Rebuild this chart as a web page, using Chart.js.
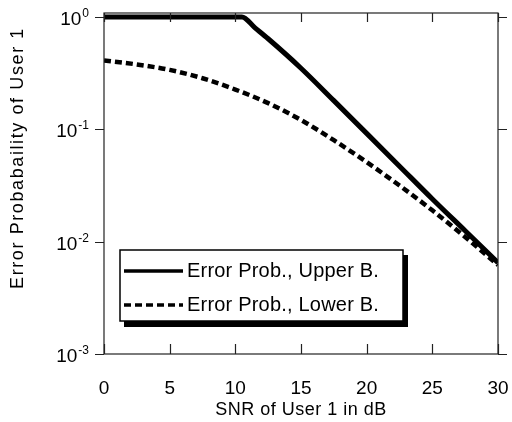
<!DOCTYPE html>
<html>
<head>
<meta charset="utf-8">
<script src="https://cdn.jsdelivr.net/npm/chart.js@4/dist/chart.umd.min.js"></script>
<style>
  html, body { margin: 0; padding: 0; background: #fff; }
</style>
</head>
<body>
<canvas id="errChart" width="512" height="422"></canvas>
<script>
// values
var snrUpper = [0, 5, 10.5, 11.5, 12.5, 15, 17.5, 20, 22.5, 25, 27.5, 30];
var upperB   = [1, 1, 1, 0.80, 0.64, 0.35, 0.18, 0.092, 0.047, 0.024, 0.0125, 0.0065];
var snrLower = [0, 2.5, 5, 7.5, 10, 12.5, 15, 17.5, 20, 22.5, 25, 27.5, 30];
var lowerB   = [0.41, 0.378, 0.338, 0.285, 0.226, 0.171, 0.121, 0.080, 0.051, 0.0316, 0.019, 0.011, 0.0062];
var seriesNames = ['Error Prob., Upper B.', 'Error Prob., Lower B.'];

var xTicks = [0, 5, 10, 15, 20, 25, 30];
var yTicks = [0.001, 0.01, 0.1, 1];
var yTickExp = ['-3', '-2', '-1', '0'];

var FONT = '"Liberation Sans", Arial, Helvetica, sans-serif';

function toPoints(xs, ys) {
    return xs.map(function (s, i) { return { x: s, y: ys[i] }; });
}

// frame, ticks, y labels, axis titles and the boxed legend
var framePlugin = {
    id: 'frame',
    afterDraw: function (chart) {
        var c = chart.ctx;
        var a = chart.chartArea;
        var xs = chart.scales.x, ys = chart.scales.y;
        c.save();

        // box round the plot
        c.strokeStyle = '#222';
        c.lineWidth = 1.2;
        c.strokeRect(a.left, a.top, a.right - a.left, a.bottom - a.top);

        // x ticks, pointing inward top and bottom
        c.beginPath();
        xTicks.forEach(function (v) {
            var px = Math.round(xs.getPixelForValue(v)) + 0.5;
            c.moveTo(px, a.bottom); c.lineTo(px, a.bottom - 10);
            c.moveTo(px, a.top); c.lineTo(px, a.top + 9);
        });
        // y ticks, outward on both sides
        yTicks.forEach(function (v) {
            var py = Math.round(ys.getPixelForValue(v)) + 0.5;
            c.moveTo(a.left, py); c.lineTo(a.left - 9, py);
            c.moveTo(a.right, py); c.lineTo(a.right + 9, py);
        });
        c.stroke();

        // y tick labels 10^n
        c.fillStyle = '#000';
        c.textBaseline = 'alphabetic';
        c.textAlign = 'left';
        yTicks.forEach(function (v, i) {
            var py = ys.getPixelForValue(v);
            c.font = '12px ' + FONT;
            var ew = c.measureText(yTickExp[i]).width;
            c.font = '19px ' + FONT;
            var bw = c.measureText('10').width;
            var right = 89;
            c.fillText('10', right - ew - bw - 1, py + 8);
            c.font = '12px ' + FONT;
            c.fillText(yTickExp[i], right - ew, py);
        });

        // axis titles
        c.font = '18px ' + FONT;
        c.textAlign = 'center';
        c.textBaseline = 'middle';
        c.letterSpacing = '0.5px';
        c.fillText('SNR of User 1 in dB', (a.left + a.right) / 2, 410);
        c.save();
        c.translate(18, 158);
        c.rotate(-Math.PI / 2);
        c.letterSpacing = '1.6px';
        c.fillText('Error Probabaility of User 1', 0, 0);
        c.restore();
        c.letterSpacing = '0px';

        // legend with shadow
        var lx = 120, ly = 250, lw = 283, lh = 71;
        c.fillStyle = '#000';
        c.fillRect(lx + 4, ly + 5, lw + 1, lh + 1);
        c.fillStyle = '#fff';
        c.fillRect(lx, ly, lw, lh);
        c.lineWidth = 1.5;
        c.strokeStyle = '#000';
        c.strokeRect(lx, ly, lw, lh);

        chart.data.datasets.forEach(function (ds, i) {
            var yy = 271 + i * 34;
            c.beginPath();
            c.setLineDash(ds.borderDash || []);
            c.lineWidth = 3.5;
            c.moveTo(124, yy);
            c.lineTo(183, yy);
            c.stroke();
            c.setLineDash([]);
            c.fillStyle = '#000';
            c.font = '20px ' + FONT;
            c.textAlign = 'left';
            c.textBaseline = 'middle';
            c.letterSpacing = '0.2px';
            c.fillText(ds.label, 187, yy);
        });

        c.restore();
    }
};

var ctx = document.getElementById('errChart').getContext('2d');
var errChart = new Chart(ctx, {
    type: 'line',
    data: {
        datasets: [{
            label: seriesNames[0],
            data: toPoints(snrUpper, upperB),
            borderColor: '#000',
            borderWidth: 5,
            pointRadius: 0,
            cubicInterpolationMode: 'monotone',
            fill: false
        }, {
            label: seriesNames[1],
            data: toPoints(snrLower, lowerB),
            borderColor: '#000',
            borderWidth: 4.5,
            borderDash: [7, 4],
            pointRadius: 0,
            cubicInterpolationMode: 'monotone',
            fill: false
        }]
    },
    options: {
        responsive: false,
        animation: false,
        layout: { padding: { top: 13, right: 14, left: 0, bottom: 0 } },
        plugins: {
            legend: { display: false },
            tooltip: { enabled: false }
        },
        scales: {
            x: {
                type: 'linear',
                min: 0,
                max: 30,
                afterBuildTicks: function (s) { s.ticks = xTicks.map(function (v) { return { value: v }; }); },
                afterFit: function (s) { s.height = 68; s.paddingLeft = 0; s.paddingRight = 0; },
                grid: { display: false },
                border: { display: false },
                ticks: { color: '#000', padding: 15, maxRotation: 0, font: { family: FONT, size: 19 } }
            },
            y: {
                type: 'logarithmic',
                min: 0.001,
                max: 1.085,
                afterBuildTicks: function (s) { s.ticks = yTicks.map(function (v) { return { value: v }; }); },
                afterFit: function (s) { s.width = 104; s.paddingTop = 0; s.paddingBottom = 0; },
                grid: { display: false },
                border: { display: false },
                ticks: { display: false }
            }
        }
    },
    plugins: [framePlugin]
});
</script>
</body>
</html>
